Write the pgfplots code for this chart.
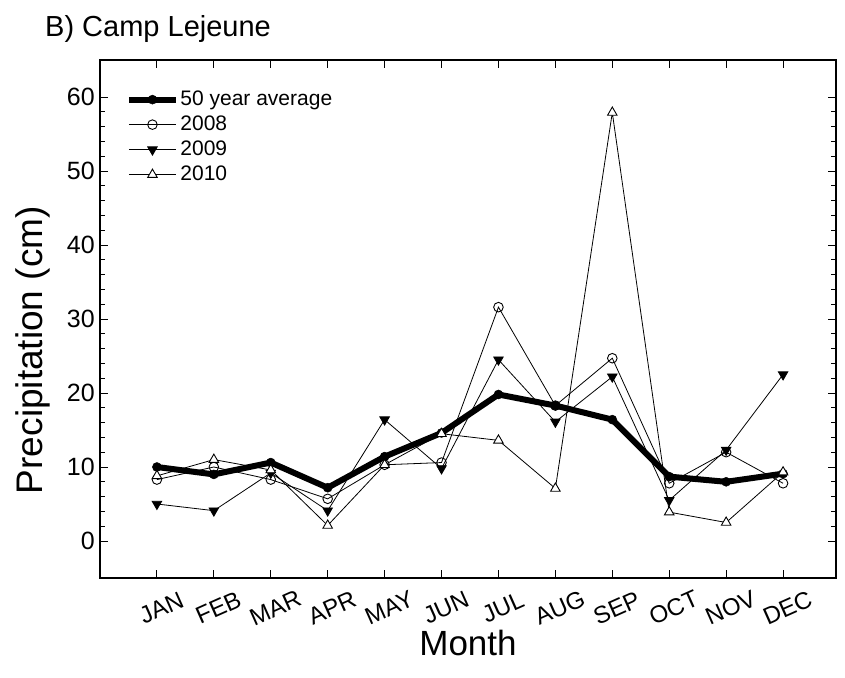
\documentclass[border=0pt]{standalone}
\usepackage{fontspec}
\setmainfont{Liberation Sans}
\usepackage{pgfplots}
\pgfplotsset{compat=1.18}
\begin{document}
\begin{tikzpicture}[x=1pt,y=1pt]
\path (-100,-99) rectangle (745,578);
\node[anchor=base west, font=\fontsize{29}{34}\selectfont, inner sep=0pt] at (-55,541) {B) Camp Lejeune};
\begin{axis}[
  at={(0,0)}, anchor=south west,
  scale only axis, width=736pt, height=518pt,
  xmin=-1, xmax=11.93, ymin=-5, ymax=65,
  xtick={0,...,11},
  xticklabels={JAN,FEB,MAR,APR,MAY,JUN,JUL,AUG,SEP,OCT,NOV,DEC},
  ytick={0,10,...,60},
  minor y tick num=4,
  xtick pos=both, ytick pos=both,
  xticklabel pos=lower, yticklabel pos=left,
  tick align=inside,
  major tick length=8pt, minor tick length=5pt,
  tick style={black, line width=0.9pt},
  axis line style={line width=1.2pt},
  /pgf/number format/assume math mode=true,
  yticklabel style={font=\fontsize{25}{30}\selectfont, inner sep=0pt, anchor=east, xshift=-5pt},
  xticklabel style={font=\fontsize{24}{28}\selectfont, inner sep=0pt, rotate=24, anchor=center, yshift=-29pt, xshift=-8pt},
  xlabel={Month},
  xlabel style={font=\fontsize{35}{40}\selectfont, at={(axis description cs:0.5,-0.125)}, anchor=center},
  ylabel={Precipitation (cm)},
  ylabel style={font=\fontsize{37}{40}\selectfont, at={(axis description cs:-0.091,0.44)}, anchor=center, rotate=0},
  legend style={draw=none, fill=none, at={(axis description cs:0.035,0.948)}, anchor=north west,
    inner sep=0pt, font=\fontsize{21}{25}\selectfont,
    nodes={inner sep=1.5pt, text height=17pt, text depth=5pt}},
  legend cell align=left,
  legend image code/.code={\draw[mark repeat=2, mark phase=2, #1] plot coordinates {(0pt,0pt) (23.5pt,0pt) (47pt,0pt)};},
]
\addplot[black, line width=6pt, mark=*, mark size=4.5pt, mark options={line width=0.5pt}] coordinates {
(0,10.0) (1,9.0) (2,10.6) (3,7.2) (4,11.4) (5,14.6) (6,19.8) (7,18.3) (8,16.4) (9,8.7) (10,8.0) (11,9.1)};
\addlegendentry{50 year average}
\addplot[black, line width=0.8pt, mark=o, mark size=4.8pt, mark options={fill=white, line width=0.9pt}] coordinates {
(0,8.3) (1,10.0) (2,8.3) (3,5.7) (4,10.3) (5,10.6) (6,31.6) (7,18.3) (8,24.7) (9,7.8) (10,12.0) (11,7.8)};
\addlegendentry{2008}
\addplot[black, line width=0.8pt, mark=triangle*, mark size=5.5pt, mark options={rotate=180, fill=black}] coordinates {
(0,5.0) (1,4.1) (2,9.2) (3,4.1) (4,16.4) (5,9.8) (6,24.5) (7,16.1) (8,22.2) (9,5.5) (10,12.3) (11,22.5)};
\addlegendentry{2009}
\addplot[black, line width=0.8pt, mark=triangle*, mark size=5.5pt, mark options={fill=white, line width=0.9pt}] coordinates {
(0,8.8) (1,11.0) (2,9.6) (3,2.1) (4,10.3) (5,14.5) (6,13.6) (7,7.1) (8,57.9) (9,3.9) (10,2.5) (11,9.3)};
\addlegendentry{2010}
\end{axis}
\end{tikzpicture}
\end{document}
